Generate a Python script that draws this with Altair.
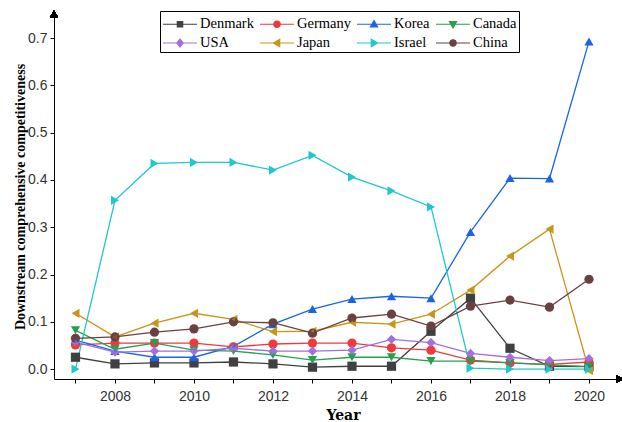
import altair as alt
import pandas as pd

years = list(range(2007, 2021))

countries = ["Denmark", "Germany", "Korea", "Canada", "USA", "Japan", "Israel", "China"]
colors = ["#404040", "#f03a3a", "#1a64e6", "#25a050", "#a46ee0", "#c8961a", "#1fc8cf", "#6b4040"]
shapes = ["square", "circle", "triangle-up", "triangle-down", "diamond", "triangle-left",
          "triangle-right", "circle"]

denmark = [0.025, 0.011, 0.013, 0.013, 0.015, 0.011, 0.004, 0.006, 0.006, 0.080, 0.150, 0.044, 0.006, 0.005]
germany = [0.051, 0.055, 0.055, 0.055, 0.047, 0.053, 0.055, 0.055, 0.045, 0.040, 0.019, 0.013, 0.010, 0.015]
korea = [0.061, 0.038, 0.025, 0.025, 0.048, 0.095, 0.127, 0.148, 0.154, 0.150, 0.290, 0.404, 0.403, 0.693]
canada = [0.082, 0.042, 0.055, 0.040, 0.038, 0.030, 0.019, 0.025, 0.025, 0.017, 0.017, 0.013, 0.009, 0.005]
usa = [0.057, 0.036, 0.038, 0.038, 0.044, 0.038, 0.038, 0.040, 0.063, 0.056, 0.033, 0.025, 0.018, 0.022]
japan = [0.118, 0.068, 0.097, 0.118, 0.105, 0.079, 0.080, 0.099, 0.095, 0.116, 0.167, 0.239, 0.296, -0.003]
israel = [0.000, 0.357, 0.435, 0.437, 0.437, 0.421, 0.452, 0.406, 0.377, 0.343, 0.002, 0.000, 0.000, 0.000]
china = [0.065, 0.068, 0.078, 0.085, 0.100, 0.098, 0.076, 0.108, 0.116, 0.091, 0.133, 0.146, 0.131, 0.190]

series = [denmark, germany, korea, canada, usa, japan, israel, china]

rows = []
for name, vals in zip(countries, series):
    for yr, v in zip(years, vals):
        rows.append({"Year": yr, "Value": v, "Country": name})
df = pd.DataFrame(rows)

# legend glyphs: a short line with the series marker in its middle
# (glyph unit = 10 px; the line spans -1..2.4 so it starts at the entry's left edge)
line = "M-1,0H2.4"
marker_paths = {
    "square": "M0.43,-0.27H0.97V0.27H0.43Z",
    "circle": "M1.02,0A0.32,0.32 0 1,1 0.38,0A0.32,0.32 0 1,1 1.02,0Z",
    "triangle-up": "M0.7,-0.36L1.06,0.27L0.34,0.27Z",
    "triangle-down": "M0.7,0.36L1.06,-0.27L0.34,-0.27Z",
    "diamond": "M0.7,-0.4L1.02,0L0.7,0.4L0.38,0Z",
    "triangle-left": "M0.34,0L0.97,-0.36L0.97,0.36Z",
    "triangle-right": "M1.06,0L0.43,-0.36L0.43,0.36Z",
}
legend_paths = [line + marker_paths[s] for s in shapes]

x_scale = alt.Scale(domain=[2006.456, 2020.785], nice=False, zero=False)
y_scale = alt.Scale(domain=[-0.021, 0.751], nice=False, zero=False)

x_enc = alt.X(
    "Year:Q", scale=x_scale,
    axis=alt.Axis(
        title="Year", values=years, format="d",
        labelExpr="datum.value % 2 == 0 ? datum.label : ''",
        grid=False, domainColor="black", tickColor="black", tickSize=4,
        labelFont="Liberation Sans", labelFontSize=14, labelColor="#333333",
        labelPadding=6,
        titleFont="DejaVu Serif", titleFontSize=14, titleFontWeight="bold",
        titleColor="black", titlePadding=5, titleX=289,
    ),
)
y_enc = alt.Y(
    "Value:Q", scale=y_scale,
    axis=alt.Axis(
        title="Downstream comprehensive competitiveness",
        values=[round(0.05 * i, 2) for i in range(15)],
        labelExpr="round(datum.value * 100) % 10 == 0 ? format(datum.value, '.1f') : ''",
        grid=False, domainColor="black", tickColor="black", tickSize=4,
        labelFont="Liberation Sans", labelFontSize=14, labelColor="#333333",
        labelPadding=3,
        titleFont="Liberation Serif", titleFontSize=14, titleFontWeight="bold",
        titleColor="black", titlePadding=0,
    ),
)

color_scale = alt.Scale(domain=countries, range=colors)

legend_cfg = alt.Legend(
    title=None, orient="none", legendX=106, legendY=-3, direction="horizontal",
    columns=4, symbolSize=400, symbolStrokeWidth=1.2, symbolOpacity=1,
    labelFont="Liberation Serif", labelFontSize=14.5, labelColor="black",
    labelOffset=16, rowPadding=1, columnPadding=3, padding=2,
    strokeColor="black", fillColor="white", cornerRadius=0,
)

lines = alt.Chart(df).mark_line(strokeWidth=1.3).encode(
    x=x_enc, y=y_enc,
    color=alt.Color("Country:N", scale=color_scale, legend=legend_cfg),
    order="Year:Q",
)

point_layers = []
for name, shp in zip(countries, shapes):
    point_layers.append(
        alt.Chart(df).transform_filter(alt.datum.Country == name)
        .mark_point(shape=shp, filled=True, size=85, opacity=1)
        .encode(
            x="Year:Q", y="Value:Q",
            color=alt.Color("Country:N", scale=color_scale),
        )
    )

legend_layer = alt.Chart(df).mark_point(filled=True, size=1).encode(
    x="Year:Q", y="Value:Q",
    shape=alt.Shape("Country:N", scale=alt.Scale(domain=countries, range=legend_paths), legend=legend_cfg),
    fill=alt.Fill("Country:N", scale=alt.Scale(domain=countries, range=colors), legend=legend_cfg),
    stroke=alt.Stroke("Country:N", scale=alt.Scale(domain=countries, range=colors), legend=legend_cfg),
)

# axis arrowheads
arrows = alt.layer(
    alt.Chart(df).mark_point(shape="triangle-up", filled=True, color="black", size=60, opacity=1)
    .encode(x=alt.value(0), y=alt.value(0)),
    alt.Chart(df).mark_point(shape="triangle-right", filled=True, color="black", size=60, opacity=1)
    .encode(x=alt.value(566), y=alt.value(365)),
)

chart = alt.layer(lines, *point_layers, legend_layer, arrows).properties(
    width=566, height=365,
    autosize=alt.AutoSizeParams(type="none"),
    padding={"left": 54, "top": 14, "right": 2, "bottom": 43},
    background="white",
).configure_view(stroke=None)

chart.save("out.html", embed_options={"renderer": "svg", "actions": False})
